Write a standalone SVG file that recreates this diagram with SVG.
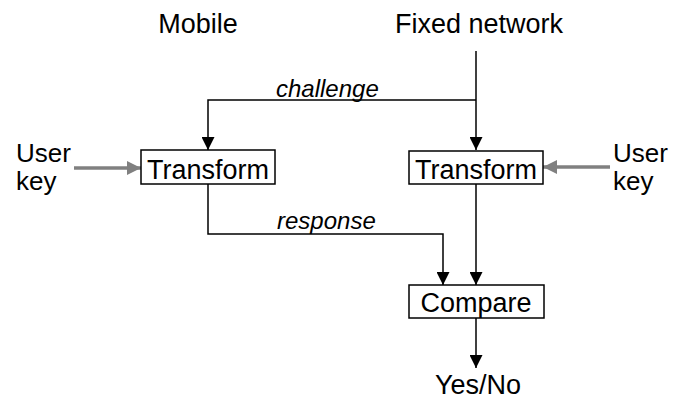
<svg xmlns="http://www.w3.org/2000/svg" width="675" height="399" viewBox="0 0 675 399">
<style>
text{font-family:"Liberation Sans",Arial,sans-serif;font-size:27px;fill:#000}
.it{font-style:italic;font-size:24px}
.side{font-size:26px}
.box{fill:#fff;stroke:#000;stroke-width:1.5}
.ln{fill:none;stroke:#000;stroke-width:1.5}
.gl{fill:none;stroke:#808080;stroke-width:3.5}
</style>
<defs>
<marker id="ab" markerWidth="13" markerHeight="13" refX="13" refY="6.5" orient="auto" markerUnits="userSpaceOnUse"><path d="M0,0L13,6.5L0,13z" fill="#000"/></marker>
<marker id="ag" markerWidth="14" markerHeight="14" refX="14" refY="7" orient="auto" markerUnits="userSpaceOnUse"><path d="M0,0L14,7L0,14z" fill="#808080"/></marker>
</defs>
<g id="labels">
<text x="198" y="33" text-anchor="middle">Mobile</text>
<text x="479" y="33" text-anchor="middle">Fixed network</text>
<text class="side" x="16" y="162">User</text>
<text class="side" x="16" y="190">key</text>
<text class="side" x="613" y="162">User</text>
<text class="side" x="613" y="190">key</text>
<text x="478" y="394" text-anchor="middle">Yes/No</text>
</g>
<g id="connectors">
<path class="ln" d="M476,51V150" marker-end="url(#ab)"/>
<path class="ln" d="M476,100H208V150" marker-end="url(#ab)"/>
<path class="ln" d="M208,184V234H443V285" marker-end="url(#ab)"/>
<path class="ln" d="M476,184V285" marker-end="url(#ab)"/>
<path class="ln" d="M476,318V368" marker-end="url(#ab)"/>
<path class="gl" d="M74,168H141" marker-end="url(#ag)"/>
<path class="gl" d="M610,167H543" marker-end="url(#ag)"/>
<text class="it" x="276" y="97">challenge</text>
<text class="it" x="277" y="229">response</text>
</g>
<g id="transform-mobile">
<rect class="box" x="141" y="150" width="134" height="34"/>
<text x="208" y="179" text-anchor="middle">Transform</text>
</g>
<g id="transform-network">
<rect class="box" x="409" y="151" width="134" height="33"/>
<text x="476" y="179" text-anchor="middle">Transform</text>
</g>
<g id="compare">
<rect class="box" x="409" y="285" width="135" height="33"/>
<text x="476" y="312" text-anchor="middle">Compare</text>
</g>
</svg>
